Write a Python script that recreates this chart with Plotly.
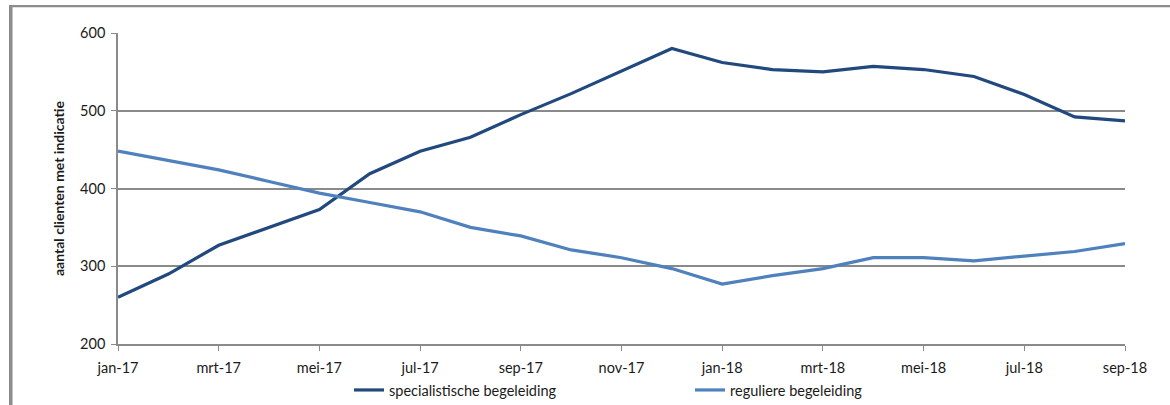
import plotly.graph_objects as go

# Months on the x axis (Dutch abbreviations)
months = ["jan-17", "feb-17", "mrt-17", "apr-17", "mei-17", "jun-17", "jul-17",
          "aug-17", "sep-17", "okt-17", "nov-17", "dec-17", "jan-18", "feb-18",
          "mrt-18", "apr-18", "mei-18", "jun-18", "jul-18", "aug-18", "sep-18"]

# Number of clients with an indication, per type of support
specialistische = [260, 290, 327, 350, 373, 419, 448, 466, 495, 522, 551, 580,
                   562, 553, 550, 557, 553, 544, 521, 492, 487]
reguliere = [448, 436, 424, 409, 394, 382, 370, 350, 339, 321, 311, 297,
             277, 288, 297, 311, 311, 307, 313, 319, 329]

tick_labels = months[::2]
y_ticks = [200, 300, 400, 500, 600]

GRID = "#8a8a8a"
FONT = "Lato"

fig = go.Figure()
fig.add_trace(go.Scatter(
    x=months, y=specialistische, mode="lines",
    name="specialistische begeleiding",
    line=dict(color="#21497e", width=3.2),
))
fig.add_trace(go.Scatter(
    x=months, y=reguliere, mode="lines",
    name="reguliere begeleiding",
    line=dict(color="#4f81bd", width=3.2),
))

# Outer frame: left edge and top edge of the surrounding box
fig.add_shape(type="line", xref="paper", yref="paper",
              x0=-0.1065, x1=-0.1065, y0=1.09, y1=-0.3,
              line=dict(color="#8c8c8c", width=3.5))
fig.add_shape(type="line", xref="paper", yref="paper",
              x0=-0.108, x1=1.1, y0=1.0865, y1=1.0865,
              line=dict(color="#8c8c8c", width=2.2))

fig.update_layout(
    width=1170, height=405,
    margin=dict(l=118, r=45, t=33, b=61, autoexpand=False),
    paper_bgcolor="white", plot_bgcolor="white",
    font=dict(family=FONT, size=13, color="#1a1a1a"),
    showlegend=True,
    legend=dict(
        orientation="h", x=0.2294, xanchor="left", y=-0.148, yanchor="middle",
        font=dict(family=FONT, size=14.5, color="#1a1a1a"),
        entrywidth=296, bgcolor="rgba(0,0,0,0)",
    ),
    xaxis=dict(
        type="category", categoryorder="array", categoryarray=months,
        range=[0, len(months) - 1],
        tickmode="array", tickvals=tick_labels, ticktext=tick_labels,
        showgrid=False, showline=True, linecolor=GRID, linewidth=1.5,
        ticks="outside", ticklen=5, tickwidth=1.3, tickcolor=GRID,
        ticklabelstandoff=5,
        tickfont=dict(family=FONT, size=14.5, color="#1a1a1a"),
        zeroline=False, fixedrange=True,
    ),
    yaxis=dict(
        range=[200, 600], tickmode="array", tickvals=y_ticks,
        showgrid=True, gridcolor=GRID, gridwidth=1.5,
        showline=True, linecolor=GRID, linewidth=1.5,
        ticks="outside", ticklen=5, tickwidth=1.3, tickcolor=GRID,
        ticklabelstandoff=3,
        tickfont=dict(family=FONT, size=14.5, color="#1a1a1a"),
        title=dict(text="<b>aantal clienten met indicatie</b>",
                   font=dict(family=FONT, size=14, color="#1a1a1a"),
                   standoff=12),
        zeroline=False, fixedrange=True,
    ),
)

fig.write_html("out.html")
